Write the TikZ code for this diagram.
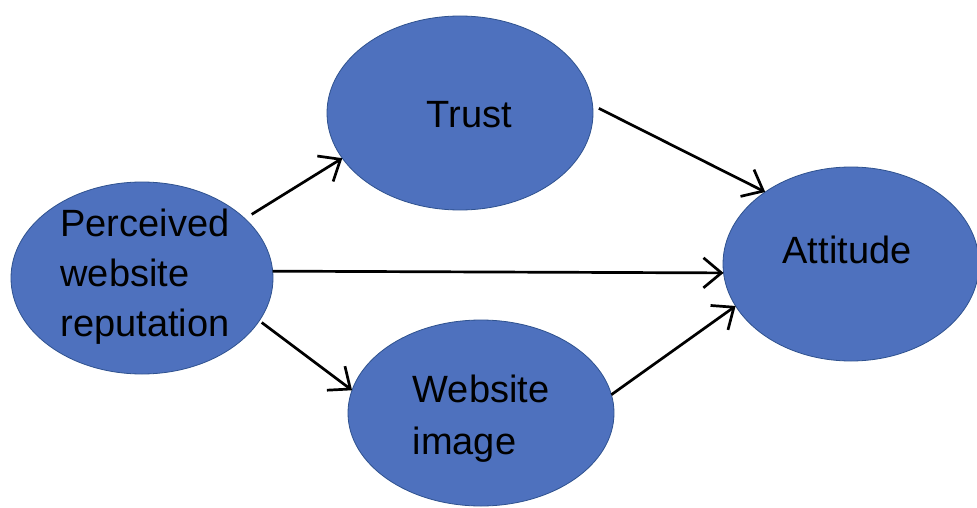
\documentclass[tikz,border=0pt]{standalone}
\usepackage{fontspec}
\setmainfont{Liberation Sans}
\usetikzlibrary{arrows.meta,shapes.geometric}
\definecolor{bubblefill}{HTML}{4E71BE}
\definecolor{bubbleline}{HTML}{2F528F}
\tikzset{
  bubble/.style={ellipse, draw=bubbleline, line width=0.8pt, fill=bubblefill,
    inner sep=0pt, outer sep=0pt},
  caption/.style={font=\fontsize{38}{50}\selectfont, text=black, inner sep=0pt, align=left},
  link/.style={line width=2.7pt, draw=black,
    -{Straight Barb[length=18pt,width=30pt]}}
}
\begin{document}
\begin{tikzpicture}[x=1pt,y=-1pt]
  \useasboundingbox (0,0) rectangle (977,508);
  \fill[white] (0,0) rectangle (977,508);

  % construct bubbles
  \node[bubble, minimum width=262pt, minimum height=192pt] (rep)   at (142,278) {};
  \node[bubble, minimum width=266pt, minimum height=194pt] (trust) at (460,113) {};
  \node[bubble, minimum width=266pt, minimum height=186pt] (wimg)  at (481,413) {};
  \node[bubble, minimum width=256pt, minimum height=194pt] (att)   at (851,264) {};

  % labels
  \node[caption] (repT)   at (145,277) {Perceived\\website\\reputation};
  \node[caption] (trustT) at (469.5,114.5) {Trust};
  \node[caption, font=\fontsize{38}{52}\selectfont] (wimgT) at (481,419) {Website\\image};
  \node[caption] (attT)   at (847,250) {Attitude};

  % hypothesised paths
  \draw[link, shorten <=8pt] (rep.30)  -- (trust.201);
  \draw[link] (rep.3)   -- (att.184);
  \draw[link, shorten <=3pt] (rep.340) -- (wimg.170);
  \draw[link] ([xshift=6pt]trust.2) -- (att.140);
  \draw[link] (wimg.8)  -- (att.200);
\end{tikzpicture}
\end{document}
